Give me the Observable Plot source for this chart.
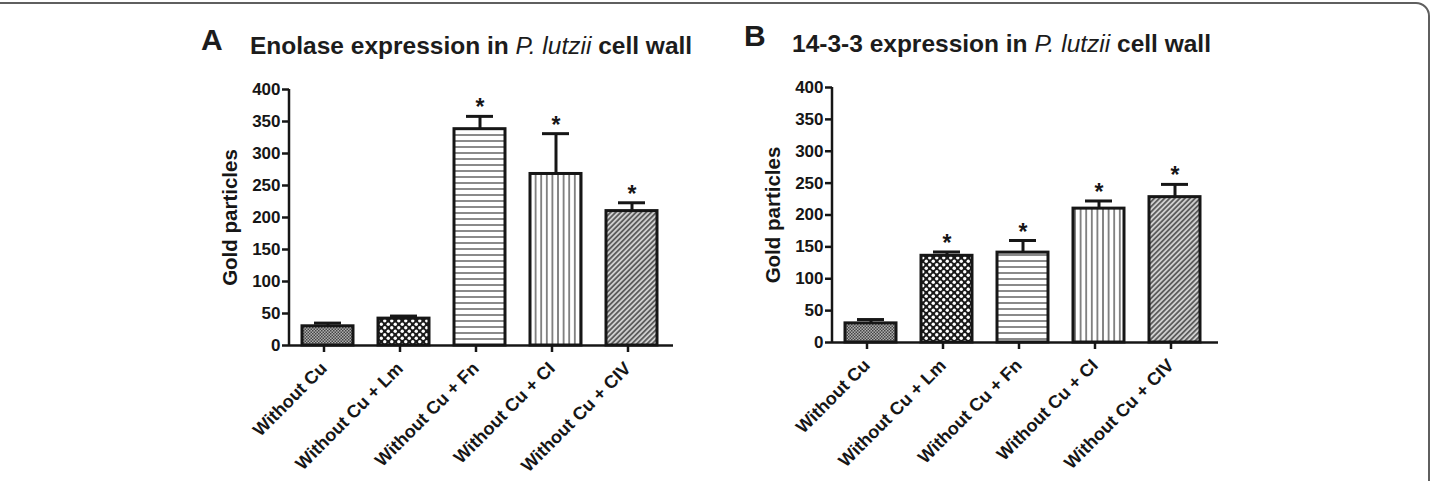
<!DOCTYPE html>
<html>
<head>
<meta charset="utf-8">
<script src="https://cdn.jsdelivr.net/npm/d3@7"></script>
<script src="https://cdn.jsdelivr.net/npm/@observablehq/plot@0.6"></script>
<style>
  html, body { margin: 0; padding: 0; background: #fff; }
  #figure { position: relative; width: 1432px; height: 481px; overflow: hidden; background: #fff;
            font-family: "Liberation Sans", Arial, Helvetica, sans-serif; color: #1c1c1c; }
  #border { position: absolute; left: -30px; top: 2px; width: 1456px; height: 520px;
            border: 2px solid #5f5f5f; border-radius: 14px; }
  .letter { position: absolute; font-weight: bold; font-size: 30px; line-height: 30px; }
  .title { position: absolute; font-weight: bold; font-size: 24.5px; line-height: 24.5px; white-space: nowrap; }
  .title i { font-weight: normal; }
  .panel { position: absolute; }
</style>
</head>
<body>
<div id="figure">
  <div id="border"></div>
  <svg width="0" height="0" style="position:absolute">
    <defs>
      <pattern id="pat-fine" width="3" height="3" patternUnits="userSpaceOnUse">
        <rect width="3" height="3" fill="#b0b0b0"/>
        <rect width="1.5" height="1.5" fill="#444"/>
        <rect x="1.5" y="1.5" width="1.5" height="1.5" fill="#444"/>
      </pattern>
      <pattern id="pat-dots" width="7" height="7" patternUnits="userSpaceOnUse">
        <rect width="7" height="7" fill="#1a1a1a"/>
        <circle cx="1.75" cy="1.75" r="1.7" fill="#fff"/>
        <circle cx="5.25" cy="5.25" r="1.7" fill="#fff"/>
      </pattern>
      <pattern id="pat-hlines" width="6" height="6" patternUnits="userSpaceOnUse">
        <rect width="6" height="6" fill="#fff"/>
        <line x1="0" y1="3" x2="6" y2="3" stroke="#4a4a4a" stroke-width="1.3"/>
      </pattern>
      <pattern id="pat-vlines" width="5.6" height="6" patternUnits="userSpaceOnUse">
        <rect width="5.6" height="6" fill="#fff"/>
        <line x1="2.8" y1="0" x2="2.8" y2="6" stroke="#4a4a4a" stroke-width="1.3"/>
      </pattern>
      <pattern id="pat-diag" width="3.6" height="3.6" patternUnits="userSpaceOnUse" patternTransform="rotate(45)">
        <rect width="3.6" height="3.6" fill="#cfcfcf"/>
        <line x1="1.8" y1="0" x2="1.8" y2="3.6" stroke="#3c3c3c" stroke-width="1.4"/>
      </pattern>
    </defs>
  </svg>
  <div class="letter" style="left:201px; top:25px;">A</div>
  <div class="title" style="left:250px; top:34px;">Enolase expression in <i>P. lutzii</i> cell wall</div>
  <div class="letter" style="left:744px; top:21px;">B</div>
  <div class="title" style="left:792px; top:32px;">14-3-3 expression in <i>P. lutzii</i> cell wall</div>
  <div class="panel" id="panelA" style="left:180px; top:60px;"></div>
  <div class="panel" id="panelB" style="left:725px; top:60px;"></div>
</div>
<script>
// Conditions tested (x axis)
const categories = ["Without Cu", "Without Cu + Lm", "Without Cu + Fn", "Without Cu + CI", "Without Cu + CIV"];

// Panel A: enolase, gold particles (mean and SEM), significance marks
const enolaseMean = [30, 42, 338, 268, 210];
const enolaseSem = [5, 4, 20, 63, 13];
const enolaseSig = [false, false, true, true, true];

// Panel B: 14-3-3, gold particles (mean and SEM), significance marks
const proteinMean = [30, 136, 141, 210, 228];
const proteinSem = [6, 6, 19, 12, 20];
const proteinSig = [false, true, true, true, true];

// Y axis ticks
const yTicks = [0, 50, 100, 150, 200, 250, 300, 350, 400];
const yLabel = "Gold particles";

// Fill pattern for each condition, in category order
const fillPatterns = ["url(#pat-fine)", "url(#pat-dots)", "url(#pat-hlines)", "url(#pat-vlines)", "url(#pat-diag)"];

const INK = "#161616";

function rowsFrom(means, sems, sigs) {
  return categories.map((c, i) => ({category: c, mean: means[i], sem: sems[i], sig: sigs[i], pattern: fillPatterns[i]}));
}

function panel({rows, marginLeft, marginTop, marginBottom, marginRight, width, height}) {
  const step = 76.3;
  return Plot.plot({
    width, height, marginLeft, marginTop, marginBottom, marginRight,
    style: {fontFamily: '"Liberation Sans", Arial, sans-serif', fontWeight: "bold", fontSize: "17px", color: INK, background: "transparent", overflow: "visible"},
    x: {domain: categories, range: [marginLeft, marginLeft + step * categories.length], paddingInner: 0.33, paddingOuter: 0.165, label: null},
    y: {domain: [0, 400], label: null},
    color: {type: "identity"},
    marks: [
      Plot.barY(rows, {x: "category", y: "mean", fill: "pattern", stroke: INK, strokeWidth: 3}),
      Plot.ruleX(rows, {x: "category", y1: "mean", y2: d => d.mean + d.sem, stroke: INK, strokeWidth: 3}),
      Plot.tickY(rows, {x: "category", y: d => d.mean + d.sem, stroke: INK, strokeWidth: 3, insetLeft: 12, insetRight: 12}),
      Plot.text(rows.filter(d => d.sig), {x: "category", y: d => d.mean + d.sem, text: () => "*", fontSize: 23, fontWeight: "bold", fill: INK, lineAnchor: "bottom", dy: -1}),
      Plot.axisY({ticks: yTicks, tickSize: 7, tickPadding: 2, strokeWidth: 2.5, fontSize: 17, fontWeight: "bold", label: null}),
      Plot.axisX({tickRotate: -45, tickSize: 7, tickPadding: 13, dx: -4, strokeWidth: 2.5, fontSize: 18, fontWeight: "bold", label: null}),
      Plot.ruleY([0], {stroke: INK, strokeWidth: 2.5}),
      // vertical axis line from 0 to 400
      (index, scales, values, dims) => d3.create("svg:line")
        .attr("x1", dims.marginLeft).attr("x2", dims.marginLeft)
        .attr("y1", scales.y(0)).attr("y2", scales.y(400))
        .attr("stroke", INK).attr("stroke-width", 2.5)
        .node(),
      Plot.text([yLabel], {frameAnchor: "left", textAnchor: "middle", rotate: -90, dx: -59, fontSize: 20.5, fontWeight: "bold", fill: INK})
    ]
  });
}

document.getElementById("panelA").append(panel({
  rows: rowsFrom(enolaseMean, enolaseSem, enolaseSig),
  width: 510, height: 420, marginLeft: 109, marginTop: 29, marginBottom: 135, marginRight: 17
}));

document.getElementById("panelB").append(panel({
  rows: rowsFrom(proteinMean, proteinSem, proteinSig),
  width: 510, height: 420, marginLeft: 107, marginTop: 27, marginBottom: 138, marginRight: 17
}));
</script>
</body>
</html>
